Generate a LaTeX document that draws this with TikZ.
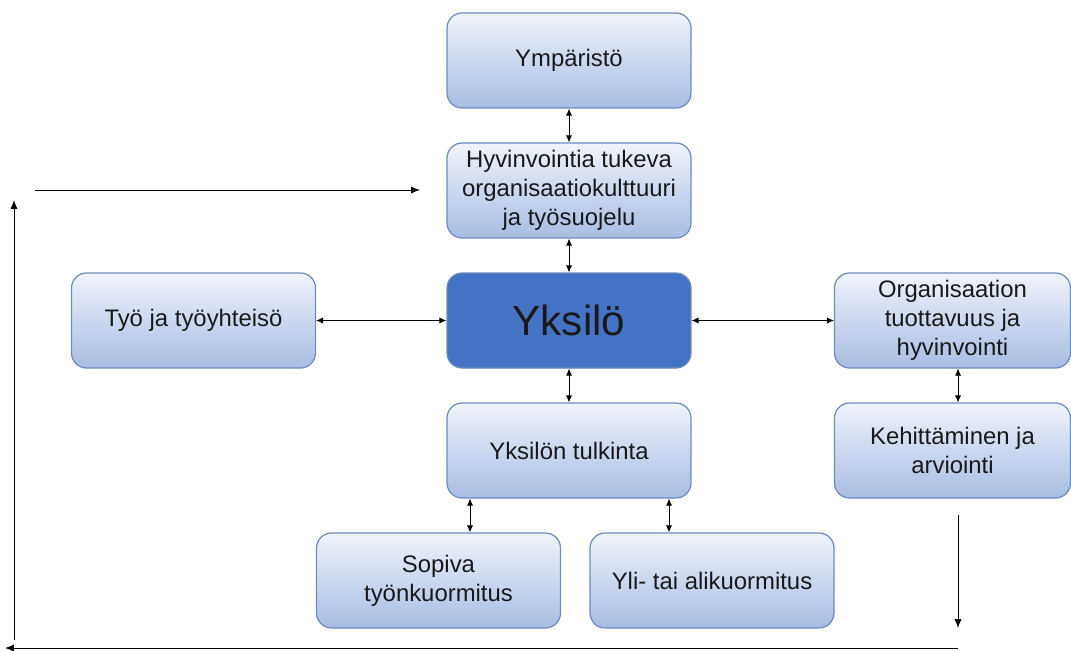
\documentclass[tikz,border=0pt]{standalone}
\usepackage{fontspec}
\setmainfont{Liberation Sans}
\usetikzlibrary{arrows.meta}

\definecolor{boxtop}{RGB}{240,244,251}
\definecolor{boxbot}{RGB}{168,188,227}
\definecolor{boxline}{RGB}{110,138,190}
\definecolor{darkbox}{RGB}{68,114,196}

\tikzset{
  lbox/.style={draw=boxline,line width=0.7pt,rounded corners=0.3cm,
    top color=boxtop,bottom color=boxbot,minimum width=4.88cm,minimum height=1.9cm,
    align=center,font=\fontsize{13.6}{16.4}\selectfont,inner sep=2pt,text=black!90},
  linkarrow/.style={<->,>={Latex[length=4pt,width=3.5pt]},line width=0.5pt},
  fbarrow/.style={->,>={Latex[length=5pt,width=4pt]},line width=0.5pt}
}

\begin{document}
\begin{tikzpicture}[x=0.02cm,y=-0.02cm]
\useasboundingbox (0,0) rectangle (1071,650);
% boxes
\node[lbox] (ymp) at (569,60.5) {Ympäristö};
\node[lbox] (hyv) at (569,190.5) {Hyvinvointia tukeva\\organisaatiokulttuuri\\ja työsuojelu};
\node[lbox,fill=darkbox,top color=darkbox,bottom color=darkbox,font=\fontsize{24}{28}\selectfont] (yks) at (569,320.5) {Yksilö};
\node[lbox] (tyo) at (193.5,320.5) {Työ ja työyhteisö};
\node[lbox,minimum width=4.72cm] (org) at (952.5,320.5) {Organisaation\\tuottavuus ja\\hyvinvointi};
\node[lbox,minimum width=4.72cm] (keh) at (952.5,450.5) {Kehittäminen ja\\arviointi};
\node[lbox] (tul) at (569,450.5) {Yksilön tulkinta};
\node[lbox] (sop) at (438.5,580.5) {Sopiva\\työnkuormitus};
\node[lbox] (yli) at (712,580.5) {Yli- tai alikuormitus};

% links
\draw[linkarrow] (ymp) -- (hyv);
\draw[linkarrow] (hyv) -- (yks);
\draw[linkarrow] (yks) -- (tul);
\draw[linkarrow] (tyo) -- (yks);
\draw[linkarrow] (yks) -- (org);
\draw[linkarrow] (org.south -| 958,0) -- (keh.north -| 958,0);
\draw[linkarrow] (tul.south -| 470,0) -- (sop.north -| 470,0);
\draw[linkarrow] (tul.south -| 669,0) -- (yli.north -| 669,0);

% feedback loop
\coordinate (f1) at (958,515);
\coordinate (f2) at (958,628);
\coordinate (f3) at (958,648);
\coordinate (f4) at (5,648);
\coordinate (f5) at (14,640);
\coordinate (f6) at (14,200);
\coordinate (f7) at (35,190);
\coordinate (f8) at (420,190);
\draw[fbarrow] (f1) -- (f2);
\draw[fbarrow] (f3) -- (f4);
\draw[fbarrow] (f5) -- (f6);
\draw[fbarrow] (f7) -- (f8);
\end{tikzpicture}
\end{document}
